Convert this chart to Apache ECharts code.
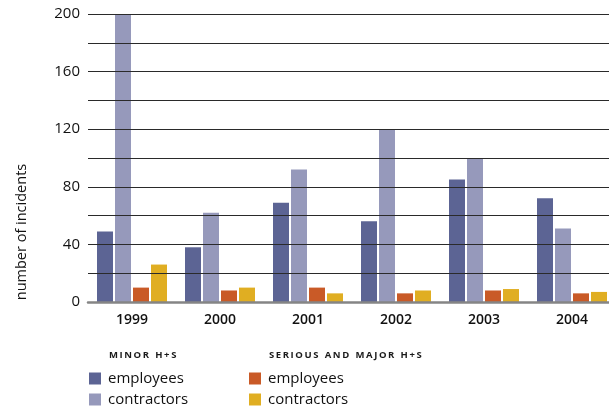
<!DOCTYPE html>
<html><head><meta charset="utf-8">
<script src="https://cdn.jsdelivr.net/npm/echarts@6/dist/echarts.min.js"></script>
<style>html,body{margin:0;padding:0;background:#fff}#c{width:609px;height:406px}</style>
</head><body><div id="c"></div>
<script>
const years = ['1999','2000','2001','2002','2003','2004'];
const minorEmployees = [49, 38, 69, 56, 85, 72];
const minorContractors = [200, 62, 92, 120, 100, 51];
const seriousEmployees = [10, 8, 10, 6, 8, 6];
const seriousContractors = [26, 10, 6, 8, 9, 7];
const yTicks = [0, 40, 80, 120, 160, 200];

const FONT = '"Open Sans", "Noto Sans", sans-serif';
const chart = echarts.init(document.getElementById('c'), null, {renderer:'canvas'});
const gridPos = {left: 88, top: 14, width: 528, height: 288, outerBoundsMode:'none', containLabel:false};
function bar(name, data, color){
  return {name, type:'bar', data, barWidth:16, barGap:'12.5%', itemStyle:{color}, xAxisIndex:0, yAxisIndex:0, z:1};
}
function leg(name, left, top){
  return {left, top, padding:0, orient:'horizontal', itemWidth:12, itemHeight:12, icon:'rect',
    data:[name], formatter:n=>n.split('|')[1], selectedMode:false,
    textStyle:{fontFamily:FONT, fontSize:15, color:'#111', padding:[0,0,0,2]}};
}
function spaced(s){
  return s.split('').map(c => c === ' ' ? '\u2009\u2009' : c).join('\u2009');
}
chart.setOption({
  animation:false,
  grid:[Object.assign({}, gridPos), Object.assign({}, gridPos)],
  xAxis:[
    {type:'category', data:years, gridIndex:0, axisTick:{show:false}, z:10,
     axisLine:{show:true, lineStyle:{color:'#858585', width:2.5}},
     axisLabel:{fontFamily:FONT, fontSize:14, fontWeight:600, color:'#111', margin:11}},
    {type:'category', data:years, gridIndex:1, show:false}
  ],
  yAxis:[
    {type:'value', gridIndex:0, min:0, max:200, interval:40, splitLine:{show:false},
     axisLine:{show:false}, axisTick:{show:false},
     axisLabel:{fontFamily:FONT, fontSize:15, color:'#111', margin:8,
       formatter: v => yTicks.includes(v) ? String(v) : ''}},
    {type:'value', gridIndex:1, min:0, max:200, interval:20, z:10,
     axisLine:{show:false}, axisTick:{show:false}, axisLabel:{show:false},
     splitLine:{show:true, lineStyle:{color:'#2a2a2a', width:1.2}}}
  ],
  legend:[
    leg('minor|employees', 89, 371),
    leg('minor|contractors', 89, 392),
    leg('serious|employees', 249, 371),
    leg('serious|contractors', 249, 392)
  ],
  graphic:[
    {type:'text', left:109, top:350, style:{text:spaced('MINOR H+S'), font:'bold 9.5px '+FONT, fill:'#1a1a1a'}},
    {type:'text', left:269, top:350, style:{text:spaced('SERIOUS AND MAJOR H+S'), font:'bold 9.5px '+FONT, fill:'#1a1a1a'}},
    {type:'text', x:22, y:232, rotation:Math.PI/2,
     style:{text:'number of incidents', font:'14.5px '+FONT, fill:'#111', align:'center', verticalAlign:'middle'}}
  ],
  series:[
    bar('minor|employees', minorEmployees, '#5c6494'),
    bar('minor|contractors', minorContractors, '#9699bb'),
    bar('serious|employees', seriousEmployees, '#c95a27'),
    bar('serious|contractors', seriousContractors, '#e0ae22')
  ]
});
</script></body></html>
